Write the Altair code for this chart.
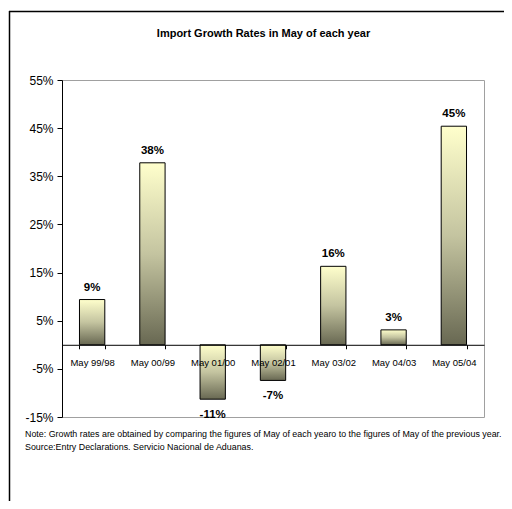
import altair as alt
import pandas as pd

# ---- data ----
categories = ["May 99/98", "May 00/99", "May 01/00", "May 02/01", "May 03/02", "May 04/03", "May 05/04"]
growth = [9.4, 37.8, -11.3, -7.4, 16.3, 3.1, 45.4]
y_ticks = [-15, -5, 5, 15, 25, 35, 45, 55]
title_text = "Import Growth Rates in May of each year"
note_lines = [
    "Note: Growth rates are obtained by comparing the figures of May of each yearo to the figures of May of the previous year.",
    "Source:Entry Declarations. Servicio Nacional de Aduanas.",
]

df = pd.DataFrame({"cat": categories, "v": growth})

# ---- layout ----
W, H = 422, 337
Y_MIN, Y_MAX = -15, 55
PAD_L, PAD_T = 54, 72
PAD_R = 496 - PAD_L - W
PAD_B = 493 - PAD_T - H
zero_offset = -H * (0 - Y_MIN) / (Y_MAX - Y_MIN)

FONT = "Liberation Sans, Arial, sans-serif"

x_enc = alt.X(
    "cat:N",
    sort=categories,
    title=None,
    scale=alt.Scale(paddingInner=0.58, paddingOuter=0.29),
    axis=alt.Axis(
        orient="bottom",
        offset=zero_offset,
        labelAngle=0,
        tickBand="extent",
        tickSize=4,
        tickColor="#000000",
        domainColor="#000000",
        domainWidth=1,
        labelPadding=9,
        labelFont=FONT,
        labelFontSize=9.5,
        labelColor="#000000",
        zindex=1,
    ),
)
y_enc = alt.Y(
    "v:Q",
    title=None,
    scale=alt.Scale(domain=[Y_MIN, Y_MAX], nice=False, zero=False),
    axis=alt.Axis(
        values=y_ticks,
        labelExpr="datum.value + '%'",
        grid=False,
        tickSize=5,
        tickColor="#000000",
        domainColor="#000000",
        labelPadding=4,
        labelFont=FONT,
        labelFontSize=12,
        labelColor="#000000",
    ),
)

gradient = alt.Gradient(
    gradient="linear",
    stops=[
        alt.GradientStop(color="#FFFFCC", offset=0),
        alt.GradientStop(color="#C4C4A0", offset=0.5),
        alt.GradientStop(color="#686852", offset=1),
    ],
    x1=0, x2=0, y1=0, y2=1,
)

base = alt.Chart(df)

bars = base.mark_bar(fill=gradient, stroke="#000000", strokeWidth=1).encode(
    x=x_enc, y=y_enc, y2=alt.datum(0)
)

label_calc = "(datum.v < 0 ? '-' : '') + format(abs(datum.v), '.0f') + '%'"
pos_labels = base.transform_filter("datum.v >= 0").transform_calculate(lbl=label_calc).mark_text(
    baseline="bottom", dy=-7, font=FONT, fontSize=11.5, fontWeight="bold", color="#000000"
).encode(x=alt.X("cat:N", sort=categories), y="v:Q", text="lbl:N")

neg_labels = base.transform_filter("datum.v < 0").transform_calculate(lbl=label_calc).mark_text(
    baseline="top", dy=10, font=FONT, fontSize=11.5, fontWeight="bold", color="#000000"
).encode(x=alt.X("cat:N", sort=categories), y="v:Q", text="lbl:N")

# outer frame (decorative)
frame_top = alt.Chart(pd.DataFrame({"a": [0]})).mark_rule(color="#000000", strokeWidth=1.5).encode(
    x=alt.value(-PAD_L + 1), x2=alt.value(W + PAD_R), y=alt.value(-PAD_T + 3.5)
)
frame_left = alt.Chart(pd.DataFrame({"a": [0]})).mark_rule(color="#000000", strokeWidth=1.5).encode(
    x=alt.value(-PAD_L + 1.5), y=alt.value(-PAD_T + 3), y2=alt.value(H + PAD_B)
)

title = alt.Chart(pd.DataFrame({"t": [title_text]})).mark_text(
    font=FONT, fontSize=11, fontWeight="bold", color="#000000", baseline="middle", align="center"
).encode(x=alt.value(263.5 - 8 - PAD_L), y=alt.value(34 - 8 - PAD_T), text="t:N")

note1 = alt.Chart(pd.DataFrame({"t": [note_lines[0]]})).mark_text(
    font=FONT, fontSize=8.9, color="#000000", baseline="middle", align="left"
).encode(x=alt.value(25 - 8 - PAD_L), y=alt.value(434 - 8 - PAD_T), text="t:N")
note2 = alt.Chart(pd.DataFrame({"t": [note_lines[1]]})).mark_text(
    font=FONT, fontSize=8.9, color="#000000", baseline="middle", align="left"
).encode(x=alt.value(25 - 8 - PAD_L), y=alt.value(447 - 8 - PAD_T), text="t:N")

chart = alt.layer(bars, pos_labels, neg_labels, frame_top, frame_left, title, note1, note2).properties(
    width=W,
    height=H,
    autosize=alt.AutoSizeParams(type="none"),
    padding={"left": PAD_L, "top": PAD_T, "right": PAD_R, "bottom": PAD_B},
    background="#FFFFFF",
).configure_view(stroke="#A0A0A0", strokeWidth=1)

chart.save("out.html", embed_options={"renderer": "svg", "actions": False})
